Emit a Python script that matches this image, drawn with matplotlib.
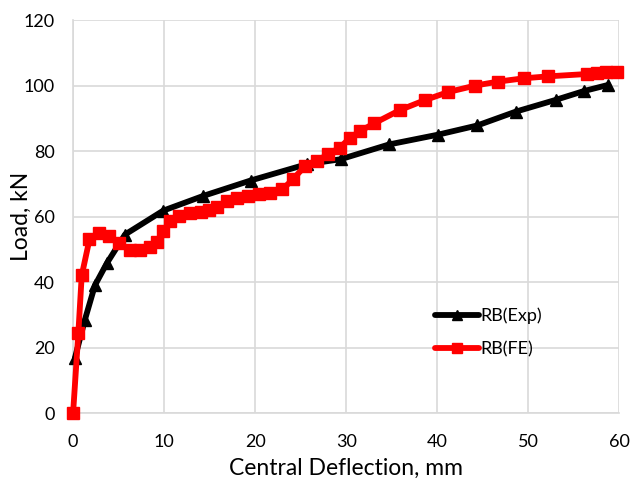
import matplotlib
matplotlib.use("Agg")
import matplotlib.pyplot as plt

plt.rcParams['font.family'] = ['Lato', 'DejaVu Sans']

# Experimental (black, triangles)
exp_x = [0.2, 1.3, 2.4, 3.7, 5.7, 9.9, 14.3, 19.5, 25.7, 29.4, 34.7, 40.1, 44.4, 48.6, 53.0, 56.1, 58.8]
exp_y = [16.8, 28.5, 39.0, 45.7, 54.5, 61.8, 66.3, 71.0, 76.0, 77.5, 82.0, 85.0, 87.8, 92.0, 95.6, 98.3, 100.2]

# FE (red, squares)
fe_x = [0.0, 0.58, 0.95, 1.8, 2.9, 3.9, 5.0, 6.3, 7.4, 8.5, 9.2, 9.9, 10.7, 11.6, 12.8, 14.0, 14.9,
        15.8, 16.9, 18.0, 19.2, 20.4, 21.6, 23.0, 24.2, 25.5, 26.8, 28.0, 29.3, 30.4, 31.5, 33.1,
        35.9, 38.7, 41.2, 44.2, 46.7, 49.5, 52.2, 56.4, 57.5, 58.5, 59.7]
fe_y = [0.0, 24.5, 42.0, 53.0, 55.0, 54.0, 52.0, 49.8, 49.8, 50.8, 52.3, 55.5, 58.5, 60.3, 61.0, 61.5, 62.0,
        63.0, 64.8, 65.8, 66.4, 66.8, 67.3, 68.3, 71.5, 75.5, 77.0, 79.0, 81.0, 84.0, 86.0, 88.5,
        92.5, 95.6, 98.0, 100.0, 101.2, 102.2, 102.8, 103.5, 103.8, 104.0, 104.0]

xticks = [0, 10, 20, 30, 40, 50, 60]
yticks = [0, 20, 40, 60, 80, 100, 120]

fig = plt.figure(figsize=(6.3, 4.82), dpi=100)
ax = fig.add_axes([0.116, 0.143, 0.867, 0.8155])

ax.plot(exp_x, exp_y, color='black', lw=4.2, marker='^', ms=8.5, label='RB(Exp)', zorder=3,
        solid_capstyle='round', clip_on=False)
ax.plot(fe_x, fe_y, color='#ff0000', lw=4.2, marker='s', ms=8.5, label='RB(FE)', zorder=4,
        solid_capstyle='round', clip_on=False)

ax.set_xlim(0, 60)
ax.set_ylim(0, 120)
ax.set_xticks(xticks)
ax.set_yticks(yticks)
ax.grid(True, color='#d9d9d9', lw=1.2)
ax.set_axisbelow(True)
for s in ['top', 'right']:
    ax.spines[s].set_visible(False)
for s in ['left', 'bottom']:
    ax.spines[s].set_color('#d9d9d9')
    ax.spines[s].set_linewidth(1.2)
ax.tick_params(axis='x', length=0, labelsize=13, colors='black', pad=15)
ax.tick_params(axis='y', length=0, labelsize=13, colors='black', pad=13)

ax.set_xlabel('Central Deflection, mm', fontsize=16.5)
ax.set_ylabel('Load, kN', fontsize=16.5)
ax.xaxis.set_label_coords(0.5, -0.14)
ax.xaxis.label.set_va('center')
ax.yaxis.set_label_coords(-0.095, 0.5)
ax.yaxis.label.set_va('center')

leg = ax.legend(loc='center left', bbox_to_anchor=(0.663, 0.205), frameon=False, fontsize=13,
                handlelength=2.4, labelspacing=0.95, handletextpad=0.1, borderpad=0,
                borderaxespad=0, markerscale=0.9)

fig.savefig('out.png', dpi=100)
